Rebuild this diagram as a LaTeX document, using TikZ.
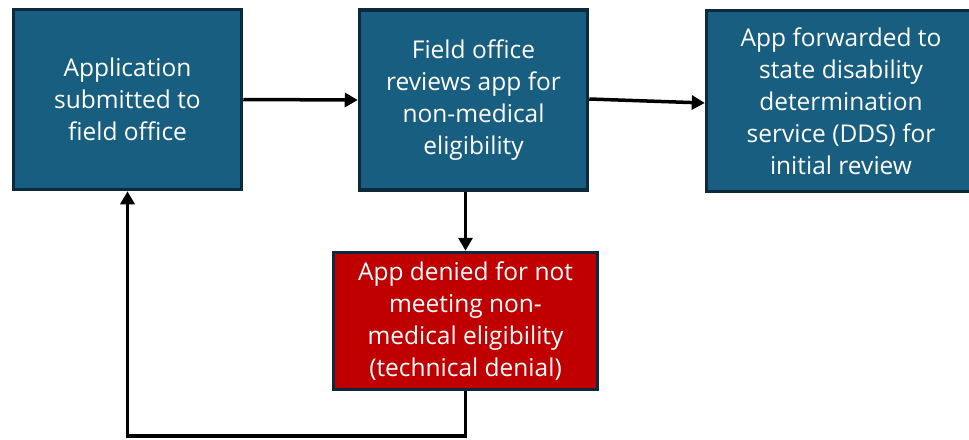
\documentclass[tikz,border=0pt]{standalone}
\usepackage{fontspec}
\setmainfont{Open Sans}
\usetikzlibrary{arrows.meta,calc}
\definecolor{stepblue}{HTML}{175E80}
\definecolor{stepedge}{HTML}{0C2A3B}
\definecolor{denyred}{HTML}{C00000}
\tikzset{
  flowbox/.style={draw=stepedge, line width=3.5pt, fill=stepblue, text=white,
    align=center, inner sep=0pt,
    font=\fontsize{24.5}{32}\selectfont},
  denybox/.style={flowbox, fill=denyred},
  link/.style={line width=3.5pt, -{Triangle[width=14pt,length=13pt]}},
}
\begin{document}
\begin{tikzpicture}[x=1pt, y=-1pt]
  \useasboundingbox (0,0) rectangle (969,439);
  \begin{scope}
    \clip (0,0) rectangle (969,439);
    \node[flowbox, minimum width=228pt, minimum height=180pt] (apply) at (127.5,99.5)
      {Application\\submitted to\\field office};
    \node[flowbox, minimum width=228pt, minimum height=180pt] (review) at (473.5,100)
      {Field office\\reviews app for\\non-medical\\eligibility};
    \node[flowbox, minimum width=269pt, minimum height=181pt] (dds) at (841,101)
      {App forwarded to\\state disability\\determination\\service (DDS) for\\initial review};
    \node[denybox, minimum width=264pt, minimum height=137pt] (deny) at (465.5,321)
      {App denied for not\\meeting non-\\medical eligibility\\(technical denial)};

    \coordinate (loopA) at (465.5,436);
    \coordinate (loopB) at (127.5,436);

    \draw[link] (apply.east) -- (review.west);
    \draw[link] ($(review.east)+(0,-1)$) -- ($(dds.west)+(0,2)$);
    \draw[link] (review.south -| deny.north) -- (deny.north);
    \draw[link, line join=miter] (deny.south) -- (loopA) -- (loopB) -- (apply.south);
  \end{scope}
\end{tikzpicture}
\end{document}
